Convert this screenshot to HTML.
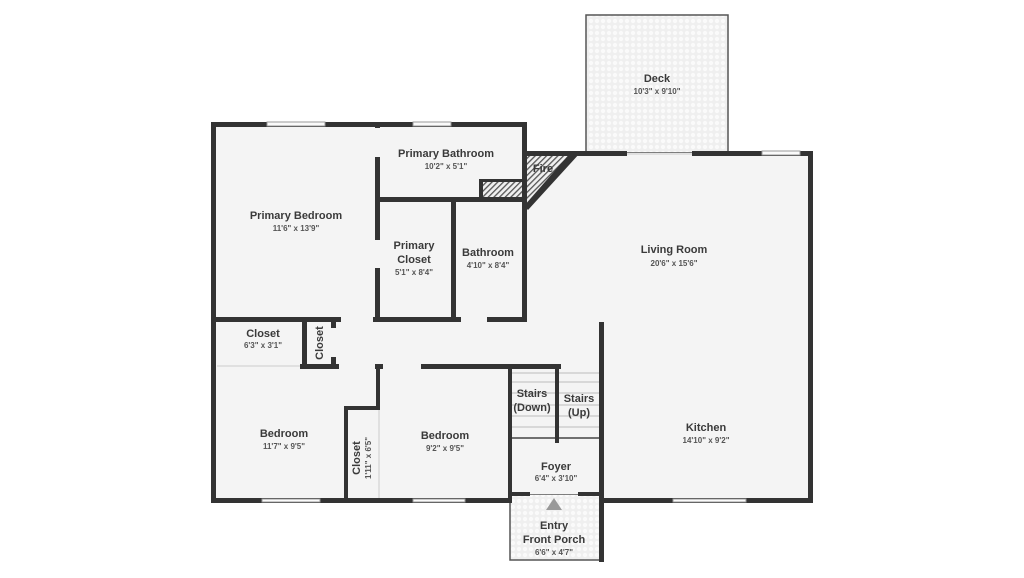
<!DOCTYPE html>
<html><head><meta charset="utf-8"><style>
html,body{margin:0;padding:0;background:#fff;}
svg{display:block;}
text{font-family:"Liberation Sans",sans-serif;fill:#3a3a3a;text-anchor:middle;}
.t{font-weight:bold;font-size:11px;}
.d{font-size:8px;font-weight:bold;fill:#555;}
</style></head><body>
<svg width="1024" height="578" viewBox="0 0 1024 578" xmlns="http://www.w3.org/2000/svg">
<defs>
<pattern id="tile" width="6" height="6" patternUnits="userSpaceOnUse">
<rect width="6" height="6" fill="#efefef"/><circle cx="3" cy="3" r="2.2" fill="#fafafa"/>
</pattern>
<pattern id="hatch" width="4" height="4" patternUnits="userSpaceOnUse" patternTransform="rotate(45)">
<rect width="4" height="4" fill="#f0f0f0"/><rect width="1.3" height="4" fill="#555"/>
</pattern>
</defs>
<!-- floors -->
<rect x="586" y="15" width="142" height="138" fill="url(#tile)" stroke="#555" stroke-width="1.5"/>
<rect x="510" y="494" width="92" height="66" fill="url(#tile)" stroke="#555" stroke-width="1.5"/>
<path d="M213 124 H524 V153 H810 V500 H601 V494 H510 V500 H213 Z" fill="#f4f4f4"/>
<!-- hatched fire -->
<polygon points="526,153 578,153 526,208" fill="url(#hatch)"/>
<rect x="481" y="181" width="43" height="17" fill="url(#hatch)"/>
<!-- stairs lines -->
<g stroke="#bbb" stroke-width="1">
<line x1="512" y1="373" x2="600" y2="373"/><line x1="512" y1="382" x2="600" y2="382"/>
<line x1="512" y1="393" x2="600" y2="393"/><line x1="512" y1="405" x2="600" y2="405"/>
<line x1="512" y1="416" x2="600" y2="416"/><line x1="512" y1="427" x2="600" y2="427"/>
</g>
<line x1="512" y1="438" x2="600" y2="438" stroke="#444" stroke-width="1.5"/>
<!-- walls -->
<g fill="#333">
<!-- outer top-left -->
<rect x="211" y="122" width="316" height="5"/>
<rect x="211" y="122" width="5" height="381"/>
<rect x="211" y="498" width="300" height="5"/>
<rect x="522" y="122" width="5" height="200"/>
<!-- living top -->
<rect x="524" y="151" width="103" height="5"/>
<rect x="692" y="151" width="121" height="5"/>
<rect x="808" y="151" width="5" height="352"/>
<rect x="601" y="498" width="212" height="5"/>
<polygon points="572,151 580,153 528,210 524,206"/>
<!-- interior -->
<rect x="375" y="124" width="5" height="4"/>
<rect x="375" y="157" width="5" height="83"/>
<rect x="375" y="268" width="5" height="54"/>
<rect x="377" y="197" width="148" height="5"/>
<rect x="479" y="179" width="4" height="20"/>
<rect x="479" y="179" width="46" height="3"/>
<rect x="451" y="199" width="5" height="122"/>
<rect x="213" y="317" width="128" height="5"/>
<rect x="373" y="317" width="88" height="5"/>
<rect x="487" y="317" width="39" height="5"/>
<rect x="302" y="320" width="5" height="46"/>
<rect x="331" y="320" width="5" height="8"/>
<rect x="331" y="357" width="5" height="9"/>
<rect x="300" y="364" width="39" height="5"/>
<rect x="375" y="364" width="8" height="5"/>
<rect x="421" y="364" width="140" height="5"/>
<rect x="376" y="366" width="4" height="44"/>
<rect x="344" y="406" width="36" height="4"/>
<rect x="344" y="406" width="4" height="94"/>
<rect x="508" y="366" width="4" height="137"/>
<rect x="555" y="366" width="4" height="77"/>
<rect x="599" y="322" width="5" height="240"/>
<rect x="510" y="492" width="20" height="4"/>
<rect x="578" y="492" width="24" height="4"/>
</g>
<!-- thin door/window lines -->
<g stroke="#999" stroke-width="1" fill="#fafafa">
<rect x="267" y="122" width="58" height="4"/>
<rect x="413" y="122" width="38" height="4"/>
<rect x="762" y="151" width="38" height="4"/>
<rect x="262" y="499" width="58" height="3"/>
<rect x="413" y="499" width="52" height="3"/>
<rect x="673" y="499" width="73" height="3"/>
</g>
<g stroke="#ccc" stroke-width="1">
<line x1="217" y1="366" x2="300" y2="366"/>
<line x1="379" y1="410" x2="379" y2="498"/>
<line x1="627" y1="154" x2="692" y2="154"/>
</g>
<polygon points="554,498 546,510 562,510" fill="#999"/>
<!-- labels -->
<text class="t" x="657" y="82">Deck</text><text class="d" x="657" y="94">10'3" x 9'10"</text>
<text class="t" x="446" y="157">Primary Bathroom</text><text class="d" x="446" y="169">10'2" x 5'1"</text>
<text class="t" x="543" y="172">Fire</text>
<text class="t" x="296" y="219">Primary Bedroom</text><text class="d" x="296" y="231">11'6" x 13'9"</text>
<text class="t" x="414" y="249">Primary</text><text class="t" x="414" y="263">Closet</text><text class="d" x="414" y="275">5'1" x 8'4"</text>
<text class="t" x="488" y="256">Bathroom</text><text class="d" x="488" y="268">4'10" x 8'4"</text>
<text class="t" x="674" y="253">Living Room</text><text class="d" x="674" y="266">20'6" x 15'6"</text>
<text class="t" x="263" y="337">Closet</text><text class="d" x="263" y="348">6'3" x 3'1"</text>
<text class="t" transform="translate(323,343) rotate(-90)">Closet</text>
<text class="t" x="532" y="397">Stairs</text><text class="t" x="532" y="411">(Down)</text>
<text class="t" x="579" y="402">Stairs</text><text class="t" x="579" y="416">(Up)</text>
<text class="t" x="284" y="437">Bedroom</text><text class="d" x="284" y="449">11'7" x 9'5"</text>
<text class="t" transform="translate(360,458) rotate(-90)">Closet</text>
<text class="d" transform="translate(371,458) rotate(-90)">1'11" x 6'5"</text>
<text class="t" x="445" y="439">Bedroom</text><text class="d" x="445" y="451">9'2" x 9'5"</text>
<text class="t" x="706" y="431">Kitchen</text><text class="d" x="706" y="443">14'10" x 9'2"</text>
<text class="t" x="556" y="470">Foyer</text><text class="d" x="556" y="481">6'4" x 3'10"</text>
<text class="t" x="554" y="529">Entry</text><text class="t" x="554" y="543">Front Porch</text><text class="d" x="554" y="555">6'6" x 4'7"</text>
</svg>
</body></html>
